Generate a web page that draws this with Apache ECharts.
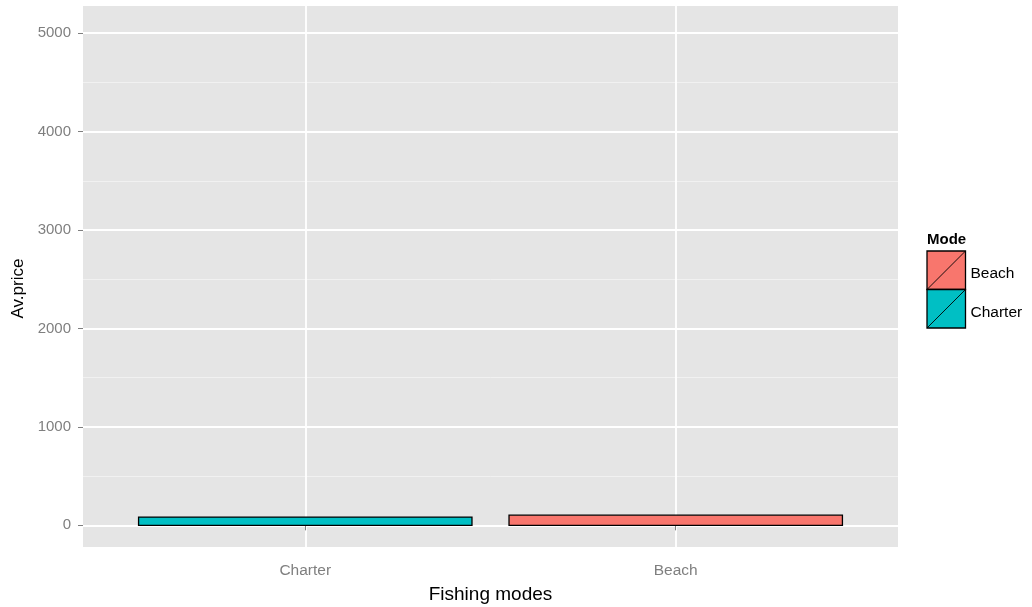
<!DOCTYPE html>
<html>
<head>
<meta charset="utf-8">
<script src="https://cdn.jsdelivr.net/npm/echarts@6/dist/echarts.min.js"></script>
<style>
  html, body { margin: 0; padding: 0; background: #ffffff; }
  #main { width: 1032px; height: 607px; }
</style>
</head>
<body>
<div id="main"></div>
<script>
// Average price per fishing mode
const modes = ['Charter', 'Beach'];
const modePositions = [1, 2];
const avPrice = [84.4, 103.4];

// Legend order and fill colours
const legendModes = ['Beach', 'Charter'];
const modeColors = { Beach: '#F8766D', Charter: '#00BFC4' };

// Axis breaks
const yBreaks = [0, 1000, 2000, 3000, 4000, 5000];
const yMinorBreaks = [500, 1500, 2500, 3500, 4500];

const FONT = '"Liberation Sans", Arial, sans-serif';
const GREY = '#7f7f7f';

const barData = modes.map((m, i) => [modePositions[i], avPrice[i], m]);

const chart = echarts.init(document.getElementById('main'), null, { renderer: 'canvas' });

// Legend keys (square with a diagonal stroke), stacked without gaps
const keyX = 927, keyTop = 251, keySize = 38.5;
const legendGraphics = [{
  type: 'text',
  left: keyX, top: 232,
  style: { text: 'Mode', font: 'bold 15px ' + FONT, fill: '#000' }
}];
legendModes.forEach((m, i) => {
  const y = keyTop + i * keySize;
  legendGraphics.push({
    type: 'rect',
    shape: { x: keyX, y: y, width: keySize, height: keySize },
    style: { fill: modeColors[m], stroke: '#000', lineWidth: 1.3 }
  });
  legendGraphics.push({
    type: 'line',
    shape: { x1: keyX, y1: y + keySize, x2: keyX + keySize, y2: y },
    style: { stroke: '#000', lineWidth: 0.9 }
  });
  legendGraphics.push({
    type: 'text',
    x: keyX + keySize + 5, y: y + keySize / 2 + 3.5,
    style: { text: m, font: '15.5px ' + FONT, fill: '#000', verticalAlign: 'middle' }
  });
});

chart.setOption({
  animation: false,
  backgroundColor: '#ffffff',
  grid: {
    left: 83, right: 134, top: 6, bottom: 60,
    outerBoundsMode: 'none',
    containLabel: false,
    show: true, backgroundColor: '#E5E5E5', borderWidth: 0
  },
  xAxis: {
    type: 'value',
    min: 0.4, max: 2.6,
    axisLine: { show: false },
    axisTick: { show: true, customValues: modePositions, length: 5, lineStyle: { color: GREY, width: 1 } },
    axisLabel: {
      customValues: modePositions,
      formatter: v => modes[Math.round(v) - 1],
      color: GREY, fontSize: 15.5, fontFamily: FONT, margin: 16
    },
    splitLine: { show: true, lineStyle: { color: '#ffffff', width: 1.8 } },
    name: 'Fishing modes',
    nameLocation: 'middle',
    nameGap: 38,
    nameTextStyle: { color: '#000', fontSize: 19, fontFamily: FONT }
  },
  yAxis: [
    {
      type: 'value',
      min: -220, max: 5275,
      axisLine: { show: false },
      axisTick: { show: true, customValues: yBreaks, length: 5, lineStyle: { color: GREY, width: 1 } },
      axisLabel: {
        customValues: yBreaks,
        formatter: v => String(v),
        color: GREY, fontSize: 15, fontFamily: FONT, margin: 12
      },
      splitLine: { show: true, lineStyle: { color: '#ffffff', width: 1.8 } },
      name: 'Av.price',
      nameLocation: 'middle',
      nameGap: 55,
      nameTextStyle: { color: '#000', fontSize: 17, fontFamily: FONT, padding: [0, 24, 0, 0] }
    },
    {
      type: 'value',
      position: 'left',
      min: -220, max: 5275,
      axisLine: { show: false },
      axisTick: { show: false, customValues: yMinorBreaks },
      axisLabel: { show: false, customValues: yMinorBreaks },
      splitLine: { show: true, lineStyle: { color: '#F2F2F2', width: 0.9 } }
    }
  ],
  series: [{
    type: 'custom',
    xAxisIndex: 0,
    yAxisIndex: 0,
    data: barData,
    z: 10,
    renderItem: (params, api) => {
      const x = api.value(0);
      const v = api.value(1);
      const name = barData[params.dataIndex][2];
      const p0 = api.coord([x - 0.45, v]);
      const p1 = api.coord([x + 0.45, 0]);
      return {
        type: 'rect',
        shape: { x: p0[0], y: p0[1], width: p1[0] - p0[0], height: p1[1] - p0[1] },
        style: { fill: modeColors[name], stroke: '#000', lineWidth: 1.3 }
      };
    }
  }],
  graphic: legendGraphics
});
</script>
</body>
</html>
